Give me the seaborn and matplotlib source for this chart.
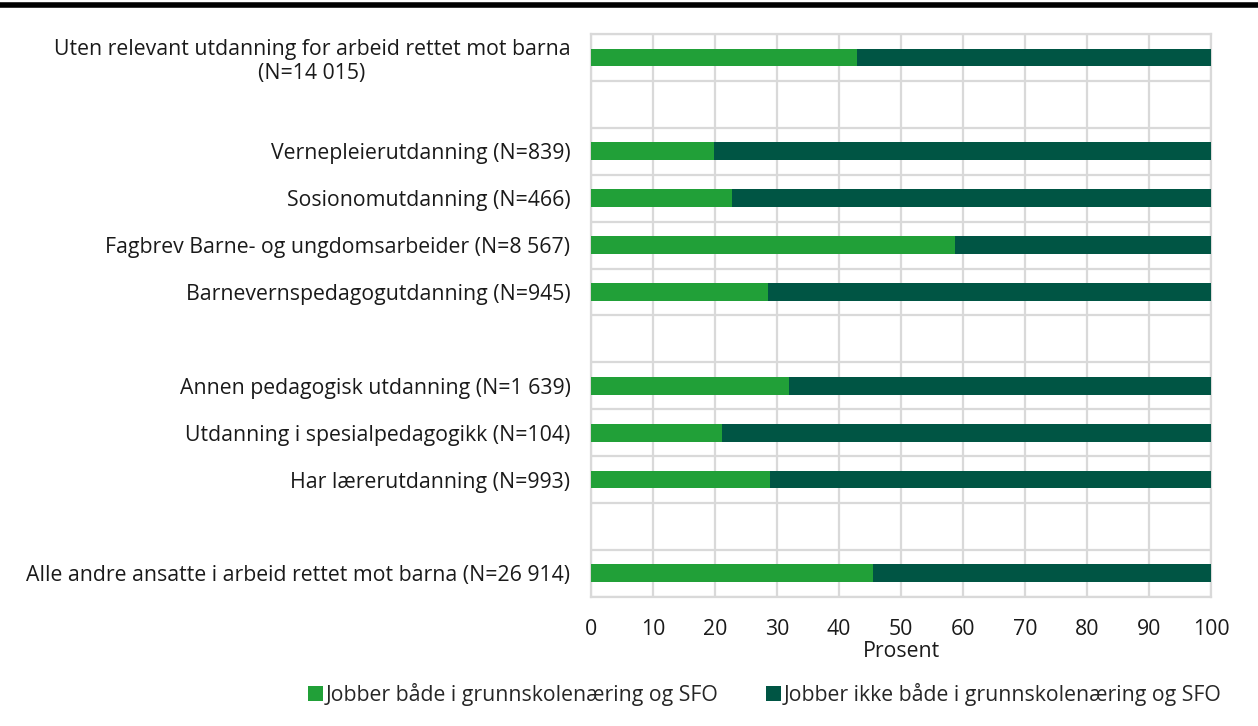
import numpy as np
import pandas as pd
import seaborn as sns
import matplotlib.pyplot as plt
from matplotlib.lines import Line2D
from matplotlib.patches import Patch

categories = [
    "Uten relevant utdanning for arbeid rettet mot barna\n(N=14 015)",
    " ",
    "Vernepleierutdanning (N=839)",
    "Sosionomutdanning (N=466)",
    "Fagbrev Barne- og ungdomsarbeider (N=8 567)",
    "Barnevernspedagogutdanning (N=945)",
    "  ",
    "Annen pedagogisk utdanning (N=1 639)",
    "Utdanning i spesialpedagogikk (N=104)",
    "Har lærerutdanning (N=993)",
    "   ",
    "Alle andre ansatte i arbeid rettet mot barna (N=26 914)",
]
begge = [42.9, np.nan, 19.8, 22.7, 58.7, 28.5, np.nan, 31.9, 21.1, 28.9, np.nan, 45.5]
ikke_begge = [57.1, np.nan, 80.2, 77.3, 41.3, 71.5, np.nan, 68.1, 78.9, 71.1, np.nan, 54.5]
series_names = ["Jobber både i grunnskolenæring og SFO",
                "Jobber ikke både i grunnskolenæring og SFO"]
colors = ["#21a038", "#005544"]

sns.set_theme(style="white")
plt.rcParams["font.family"] = ["Open Sans", "DejaVu Sans"]
FS = 15.3

df = pd.DataFrame({"kat": categories, "begge": begge, "ikke": ikke_begge})
df["total"] = df["begge"] + df["ikke"]
df_plot = df.dropna()

fig = plt.figure(figsize=(12.58, 7.26), dpi=100)
ax = fig.add_axes([0.47, 0.178, 0.4926, 0.775])

sns.barplot(data=df_plot, y="kat", x="total", order=categories, color=colors[1],
            width=0.38, orient="h", ax=ax, saturation=1, linewidth=0, zorder=3)
sns.barplot(data=df_plot, y="kat", x="begge", order=categories, color=colors[0],
            width=0.38, orient="h", ax=ax, saturation=1, linewidth=0, zorder=3)

ax.set_xlim(0, 100)
ax.set_ylim(len(categories) - 0.5, -0.5)
ax.set_xticks(range(0, 101, 10))
ax.set_yticks(np.arange(-0.5, len(categories), 1), minor=True)
ax.grid(True, axis="x", color="#d9d9d9", linewidth=1.6, zorder=0)
ax.grid(True, axis="y", which="minor", color="#d9d9d9", linewidth=1.6, zorder=0)
ax.grid(False, axis="y", which="major")
ax.set_axisbelow(True)
for s in ax.spines.values():
    s.set_color("#d9d9d9")
    s.set_linewidth(1.6)
ax.tick_params(axis="both", which="both", length=0, labelsize=FS, colors="#1a1a1a")
ax.tick_params(axis="x", pad=16)
ax.tick_params(axis="y", pad=15)
for lbl in ax.get_yticklabels():
    lbl.set_multialignment("center")
ax.set_ylabel("")
ax.set_xlabel("Prosent", fontsize=FS, color="#1a1a1a", labelpad=1)

handles = [Patch(facecolor=c, edgecolor="none") for c in colors]
fig.legend(handles, series_names, loc="center", bbox_to_anchor=(0.608, 0.043), ncol=2,
           frameon=False, fontsize=FS, handlelength=0.7, handleheight=0.7,
           handletextpad=0.15, columnspacing=2.2)

fig.add_artist(Line2D([0, 1], [0.993, 0.993], color="black", linewidth=4,
                      transform=fig.transFigure))

fig.savefig("out.png", dpi=100)
